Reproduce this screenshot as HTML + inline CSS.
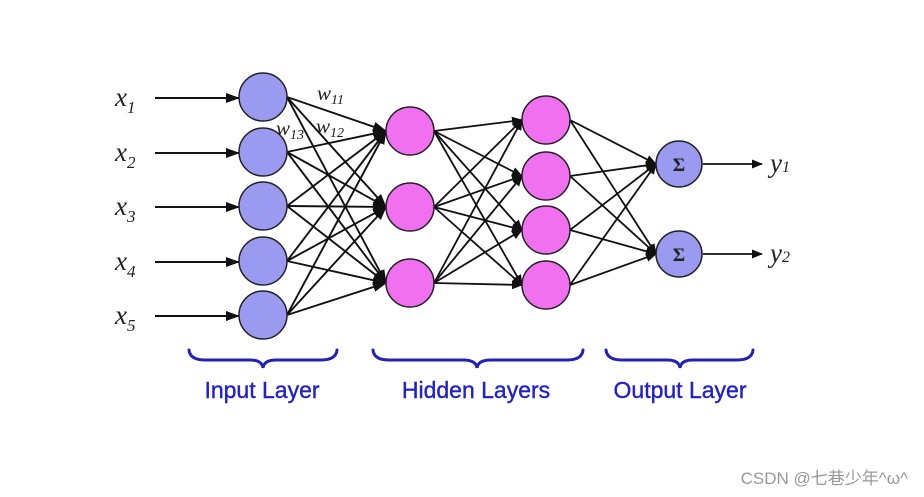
<!DOCTYPE html>
<html><head><meta charset="utf-8"><style>
html,body{margin:0;padding:0;background:#fff;}
svg{display:block}
</style></head><body>
<svg width="924" height="497" viewBox="0 0 924 497" xmlns="http://www.w3.org/2000/svg">
<defs>
<marker id="a" markerWidth="11" markerHeight="9" refX="10" refY="4.5" orient="auto" markerUnits="userSpaceOnUse"><path d="M0,0 L11,4.5 L0,9 z" fill="#111"/></marker>
<marker id="b" markerWidth="14" markerHeight="10" refX="13" refY="5" orient="auto" markerUnits="userSpaceOnUse"><path d="M0,0 L14,5 L0,10 z" fill="#111"/></marker>
</defs>
<g stroke="#111" stroke-width="2" marker-end="url(#b)">
<line x1="155" y1="98" x2="239" y2="98"/>
<line x1="155" y1="153" x2="239" y2="153"/>
<line x1="155" y1="207" x2="239" y2="207"/>
<line x1="155" y1="262" x2="239" y2="262"/>
<line x1="155" y1="316" x2="239" y2="316"/>
</g>
<g stroke="#111" stroke-width="1.9" marker-end="url(#b)">
<line x1="287" y1="97" x2="386" y2="131"/><line x1="287" y1="97" x2="386" y2="207"/><line x1="287" y1="97" x2="386" y2="283"/>
<line x1="287" y1="152" x2="386" y2="131"/><line x1="287" y1="152" x2="386" y2="207"/><line x1="287" y1="152" x2="386" y2="283"/>
<line x1="287" y1="206" x2="386" y2="131"/><line x1="287" y1="206" x2="386" y2="207"/><line x1="287" y1="206" x2="386" y2="283"/>
<line x1="287" y1="261" x2="386" y2="131"/><line x1="287" y1="261" x2="386" y2="207"/><line x1="287" y1="261" x2="386" y2="283"/>
<line x1="287" y1="315" x2="386" y2="131"/><line x1="287" y1="315" x2="386" y2="207"/><line x1="287" y1="315" x2="386" y2="283"/>
</g>
<g stroke="#111" stroke-width="1.8" marker-end="url(#a)">
<line x1="434" y1="131" x2="522" y2="120"/><line x1="434" y1="131" x2="522" y2="176"/><line x1="434" y1="131" x2="522" y2="230"/><line x1="434" y1="131" x2="522" y2="285"/>
<line x1="434" y1="207" x2="522" y2="120"/><line x1="434" y1="207" x2="522" y2="176"/><line x1="434" y1="207" x2="522" y2="230"/><line x1="434" y1="207" x2="522" y2="285"/>
<line x1="434" y1="283" x2="522" y2="120"/><line x1="434" y1="283" x2="522" y2="176"/><line x1="434" y1="283" x2="522" y2="230"/><line x1="434" y1="283" x2="522" y2="285"/>
<line x1="570" y1="120" x2="656" y2="164"/><line x1="570" y1="120" x2="656" y2="254"/>
<line x1="570" y1="176" x2="656" y2="164"/><line x1="570" y1="176" x2="656" y2="254"/>
<line x1="570" y1="230" x2="656" y2="164"/><line x1="570" y1="230" x2="656" y2="254"/>
<line x1="570" y1="285" x2="656" y2="164"/><line x1="570" y1="285" x2="656" y2="254"/>
<line x1="703" y1="164" x2="762" y2="164"/><line x1="703" y1="254" x2="762" y2="254"/>
</g>
<g stroke="#222" stroke-width="1.5">
<g fill="#9a9af0">
<circle cx="263" cy="97" r="24"/><circle cx="263" cy="152" r="24"/><circle cx="263" cy="206" r="24"/><circle cx="263" cy="261" r="24"/><circle cx="263" cy="315" r="24"/>
<circle cx="679" cy="164" r="23"/><circle cx="679" cy="254" r="23"/>
</g>
<g fill="#f070f0">
<circle cx="410" cy="131" r="24"/><circle cx="410" cy="207" r="24"/><circle cx="410" cy="283" r="24"/>
<circle cx="546" cy="120" r="24"/><circle cx="546" cy="176" r="24"/><circle cx="546" cy="230" r="24"/><circle cx="546" cy="285" r="24"/>
</g>
</g>
<g font-family="Liberation Serif, serif" font-size="19" font-weight="bold" fill="#222" text-anchor="middle">
<text x="679" y="171">Σ</text><text x="679" y="261">Σ</text>
</g>
<g font-family="Liberation Serif, serif" font-style="italic" fill="#222" font-size="27">
<text x="115" y="106">x<tspan font-size="17" dy="7">1</tspan></text>
<text x="115" y="161">x<tspan font-size="17" dy="7">2</tspan></text>
<text x="115" y="215">x<tspan font-size="17" dy="7">3</tspan></text>
<text x="115" y="270">x<tspan font-size="17" dy="7">4</tspan></text>
<text x="115" y="324">x<tspan font-size="17" dy="7">5</tspan></text>
<text x="770" y="172">y<tspan font-size="16">1</tspan></text>
<text x="770" y="262">y<tspan font-size="16">2</tspan></text>
<text x="317" y="100" font-size="21">w<tspan font-size="14" dy="4">11</tspan></text>
<text x="316" y="133" font-size="21">w<tspan font-size="14" dy="4">12</tspan></text>
<text x="276" y="135" font-size="21">w<tspan font-size="14" dy="4">13</tspan></text>
</g>
<g fill="none" stroke="#2222bb" stroke-width="3" stroke-linecap="round">
<path d="M189,350 Q190,360 205,360 L250,360 Q262,360 263,368 Q264,360 276,360 L321,360 Q336,360 337,350"/>
<path d="M373,350 Q374,360 389,360 L463,360 Q476,360 477,368 Q478,360 491,360 L567,360 Q582,360 583,350"/>
<path d="M606,350 Q607,360 622,360 L667,360 Q679,360 680,368 Q681,360 693,360 L737,360 Q752,360 753,350"/>
</g>
<g font-family="Liberation Sans, sans-serif" font-size="23" fill="#2222cc" text-anchor="middle" stroke="#2222cc" stroke-width="0.4">
<text x="262" y="398">Input Layer</text>
<text x="476" y="398">Hidden Layers</text>
<text x="680" y="398">Output Layer</text>
</g>
<text x="908" y="484" text-anchor="end" font-family="Liberation Sans, 'Noto Sans CJK SC', sans-serif" font-size="17" fill="#999">CSDN @七巷少年^ω^</text>
</svg>
</body></html>
